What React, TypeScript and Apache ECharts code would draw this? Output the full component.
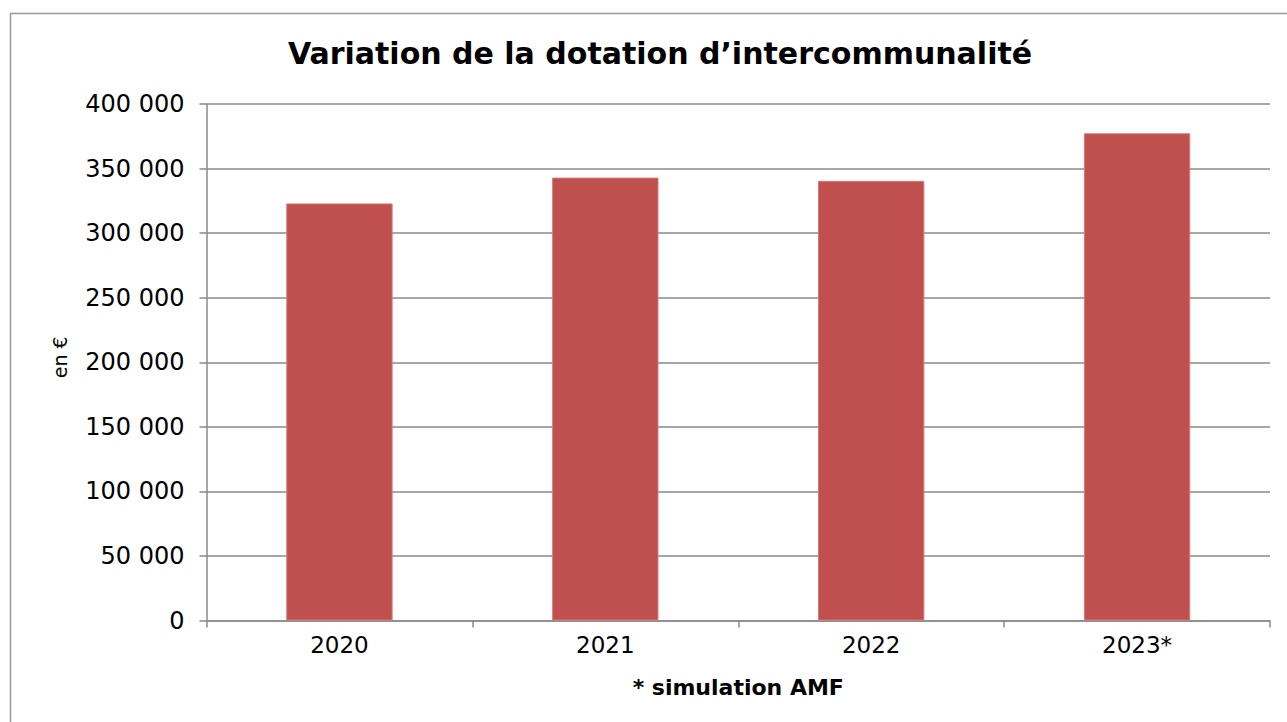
import React, { useEffect, useRef } from "react";
import * as echarts from "echarts";

const categories = ["2020", "2021", "2022", "2023*"];
const values = [323000, 343000, 340500, 377300];
const yTicks = { min: 0, max: 400000, interval: 50000 };
const titleText = "Variation de la dotation d’intercommunalité";
const xAxisName = "* simulation AMF";
const yAxisName = "en €";

const FONT = "'DejaVu Sans', sans-serif";

export default function App() {
  const ref = useRef<HTMLDivElement>(null);
  useEffect(() => {
    document.body.style.margin = "0";
    const chart = echarts.init(ref.current!, null, { renderer: "svg" });
    chart.setOption({
      animation: false,
      backgroundColor: "#ffffff",
      textStyle: { fontFamily: FONT },
      title: {
        text: titleText,
        left: 655,
        textAlign: "center",
        top: 33,
        textStyle: { fontFamily: FONT, fontSize: 30, fontWeight: "bold", color: "#000" },
      },
      graphic: [
        {
          type: "rect",
          shape: { x: 10.5, y: 13.5, width: 1400, height: 800 },
          style: { fill: "none", stroke: "#9a9a9a", lineWidth: 1.5 },
          silent: true,
        },
      ],
      grid: { left: 206.5, right: 17, top: 104, bottom: 101.5, containLabel: false },
      xAxis: {
        type: "category",
        data: categories,
        name: xAxisName,
        nameLocation: "middle",
        nameGap: 56,
        nameTextStyle: { fontFamily: FONT, fontSize: 22, fontWeight: "bold", color: "#000" },
        axisLine: { show: true, lineStyle: { color: "#8a8a8a", width: 1.5 } },
        axisTick: { show: true, length: 7, alignWithLabel: false, lineStyle: { color: "#8a8a8a", width: 1.5 } },
        axisLabel: { fontFamily: FONT, fontSize: 23, color: "#000", margin: 13 },
        splitLine: { show: false },
      },
      yAxis: {
        type: "value",
        min: yTicks.min,
        max: yTicks.max,
        interval: yTicks.interval,
        name: yAxisName,
        nameLocation: "middle",
        nameGap: 137,
        nameRotate: 90,
        nameTextStyle: { fontFamily: FONT, fontSize: 19, color: "#000", padding: [0, 0, 0, 10] },
        axisLine: { show: true, lineStyle: { color: "#8a8a8a", width: 1.5 } },
        axisTick: { show: true, length: 7, lineStyle: { color: "#8a8a8a", width: 1.5 } },
        axisLabel: {
          fontFamily: FONT,
          fontSize: 24,
          color: "#000",
          margin: 22,
          formatter: (v: number) => v.toString().replace(/\B(?=(\d{3})+(?!\d))/g, " "),
        },
        splitLine: { show: true, lineStyle: { color: "#8a8a8a", width: 1.5 } },
      },
      series: [
        {
          type: "bar",
          data: values,
          barWidth: "40%",
          itemStyle: { color: "#C0504D", borderColor: "#d87a77", borderWidth: 1 },
        },
      ],
    });
    return () => chart.dispose();
  }, []);
  return (
    <div
      ref={ref}
      style={{ position: "absolute", left: 0, top: 0, width: 1287, height: 722 }}
    />
  );
}
